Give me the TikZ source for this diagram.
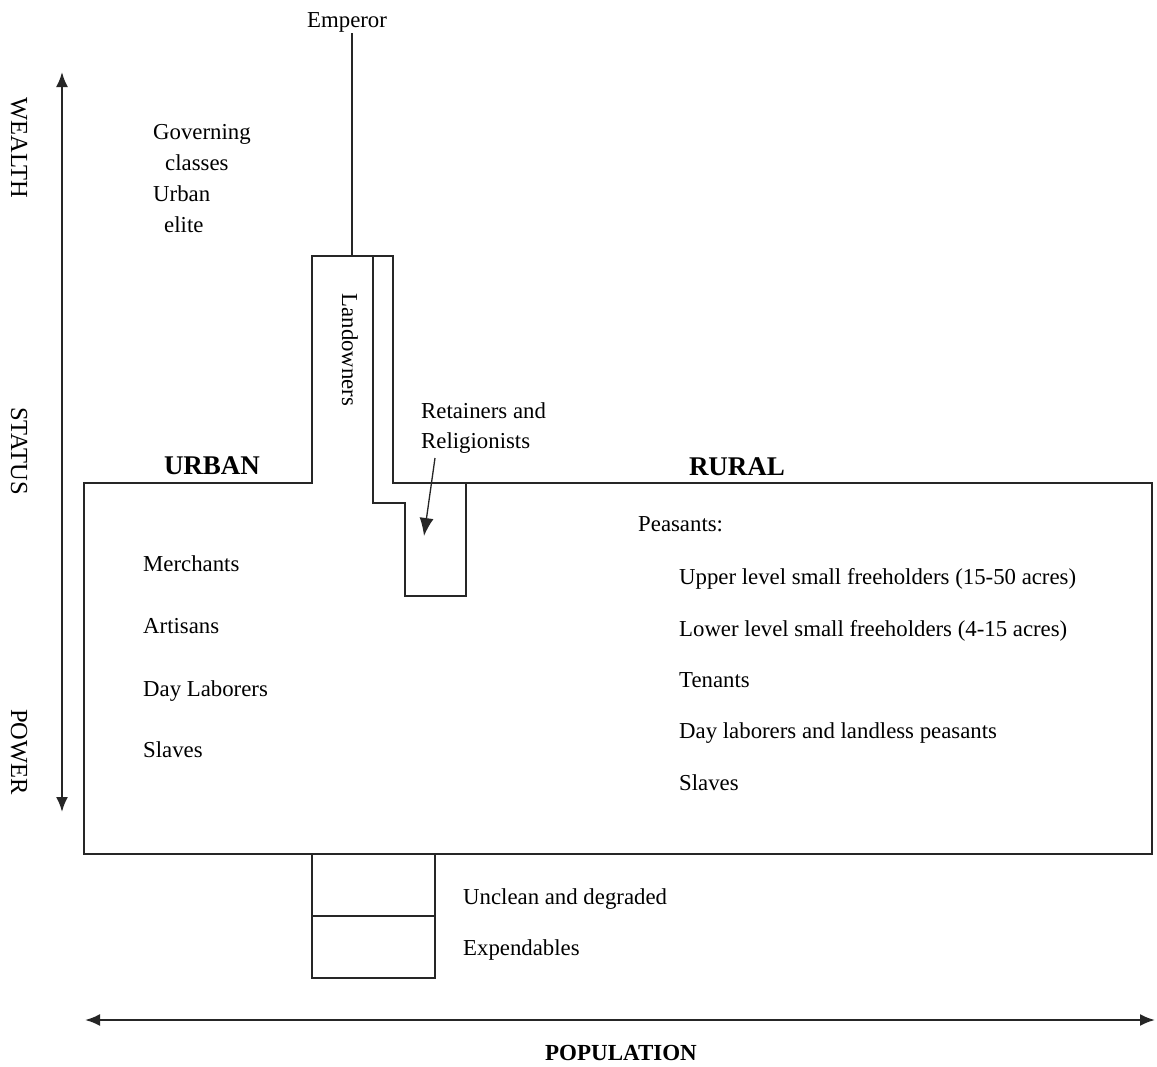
\documentclass[tikz,border=0pt]{standalone}
\usepackage{fontspec}
\setmainfont{Liberation Serif}
\usetikzlibrary{arrows.meta}
\begin{document}
\begin{tikzpicture}[x=1pt,y=-1pt,
  outline/.style={draw=black!85,line width=1.5pt},
  lbl/.style={font=\fontsize{22.8}{27}\selectfont,inner sep=0pt,anchor=base west},
  hdr/.style={font=\fontsize{27}{31}\selectfont\bfseries,inner sep=0pt,anchor=base},
  axislbl/.style={font=\fontsize{24.5}{29}\selectfont,inner sep=0pt,rotate=-90},
  axisarrow/.style={draw=black!85,line width=2.2pt,{Latex[length=15pt,width=12pt]}-{Latex[length=15pt,width=12pt]}},
  ptr/.style={draw=black!85,line width=1.3pt,-{Latex[length=18pt,width=14pt]}}]
\useasboundingbox[fill=white] (0,0) rectangle (1157,1066);

% main outline
\draw[outline] (84,483) -- (312,483) -- (312,256) -- (393,256) -- (393,483) -- (1152,483) -- (1152,854) -- (84,854) -- cycle;
\draw[outline] (373,256) -- (373,503) -- (405,503) -- (405,596) -- (466,596) -- (466,483);
% bottom box
\draw[outline] (312,854) rectangle (435,978);
\draw[outline] (312,916) -- (435,916);

% emperor
\node[lbl] (emperor) at (307,27) {Emperor};
\coordinate (emptop) at (352,33);
\coordinate (empbase) at (352,256);
\draw[outline] (emptop) -- (empbase);

% axes
\coordinate (vtop) at (62,72);
\coordinate (vbot) at (62,812);
\draw[axisarrow] (vtop) -- (vbot);
\coordinate (hleft) at (85,1020);
\coordinate (hright) at (1155,1020);
\draw[axisarrow] (hleft) -- (hright);

\node[axislbl] (wealth) at (19,148) {WEALTH};
\node[axislbl] (status) at (19,451) {STATUS};
\node[axislbl] (power) at (19,752) {POWER};
\node[hdr,font=\fontsize{23}{27}\selectfont\bfseries] (population) at (621,1060) {POPULATION};

% upper labels
\node[lbl] (gov1) at (153,139) {Governing};
\node[lbl] (gov2) at (165,170) {classes};
\node[lbl] (gov3) at (153,201) {Urban};
\node[lbl] (gov4) at (164,232) {elite};
\node[axislbl,font=\fontsize{22.8}{27}\selectfont] (landowners) at (350,350) {Landowners};
\node[lbl] (ret1) at (421,418) {Retainers and};
\node[lbl] (ret2) at (421,448) {Religionists};
\coordinate (rtail) at (435,458);
\coordinate (rhead) at (424,536);
\draw[ptr] (rtail) -- (rhead);

\node[hdr] (urban) at (212,474) {URBAN};
\node[hdr] (rural) at (737,475) {RURAL};

% urban list
\node[lbl] (merchants) at (143,571) {Merchants};
\node[lbl] (artisans) at (143,633) {Artisans};
\node[lbl] (udaylab) at (143,696) {Day Laborers};
\node[lbl] (uslaves) at (143,757) {Slaves};

% rural list
\node[lbl] (peasants) at (638,531) {Peasants:};
\node[lbl] (upper) at (679,584) {Upper level small freeholders (15-50 acres)};
\node[lbl] (lower) at (679,636) {Lower level small freeholders (4-15 acres)};
\node[lbl] (tenants) at (679,687) {Tenants};
\node[lbl] (rdaylab) at (679,738) {Day laborers and landless peasants};
\node[lbl] (rslaves) at (679,790) {Slaves};

% bottom
\node[lbl] (unclean) at (463,904) {Unclean and degraded};
\node[lbl] (expend) at (463,955) {Expendables};
\end{tikzpicture}
\end{document}
